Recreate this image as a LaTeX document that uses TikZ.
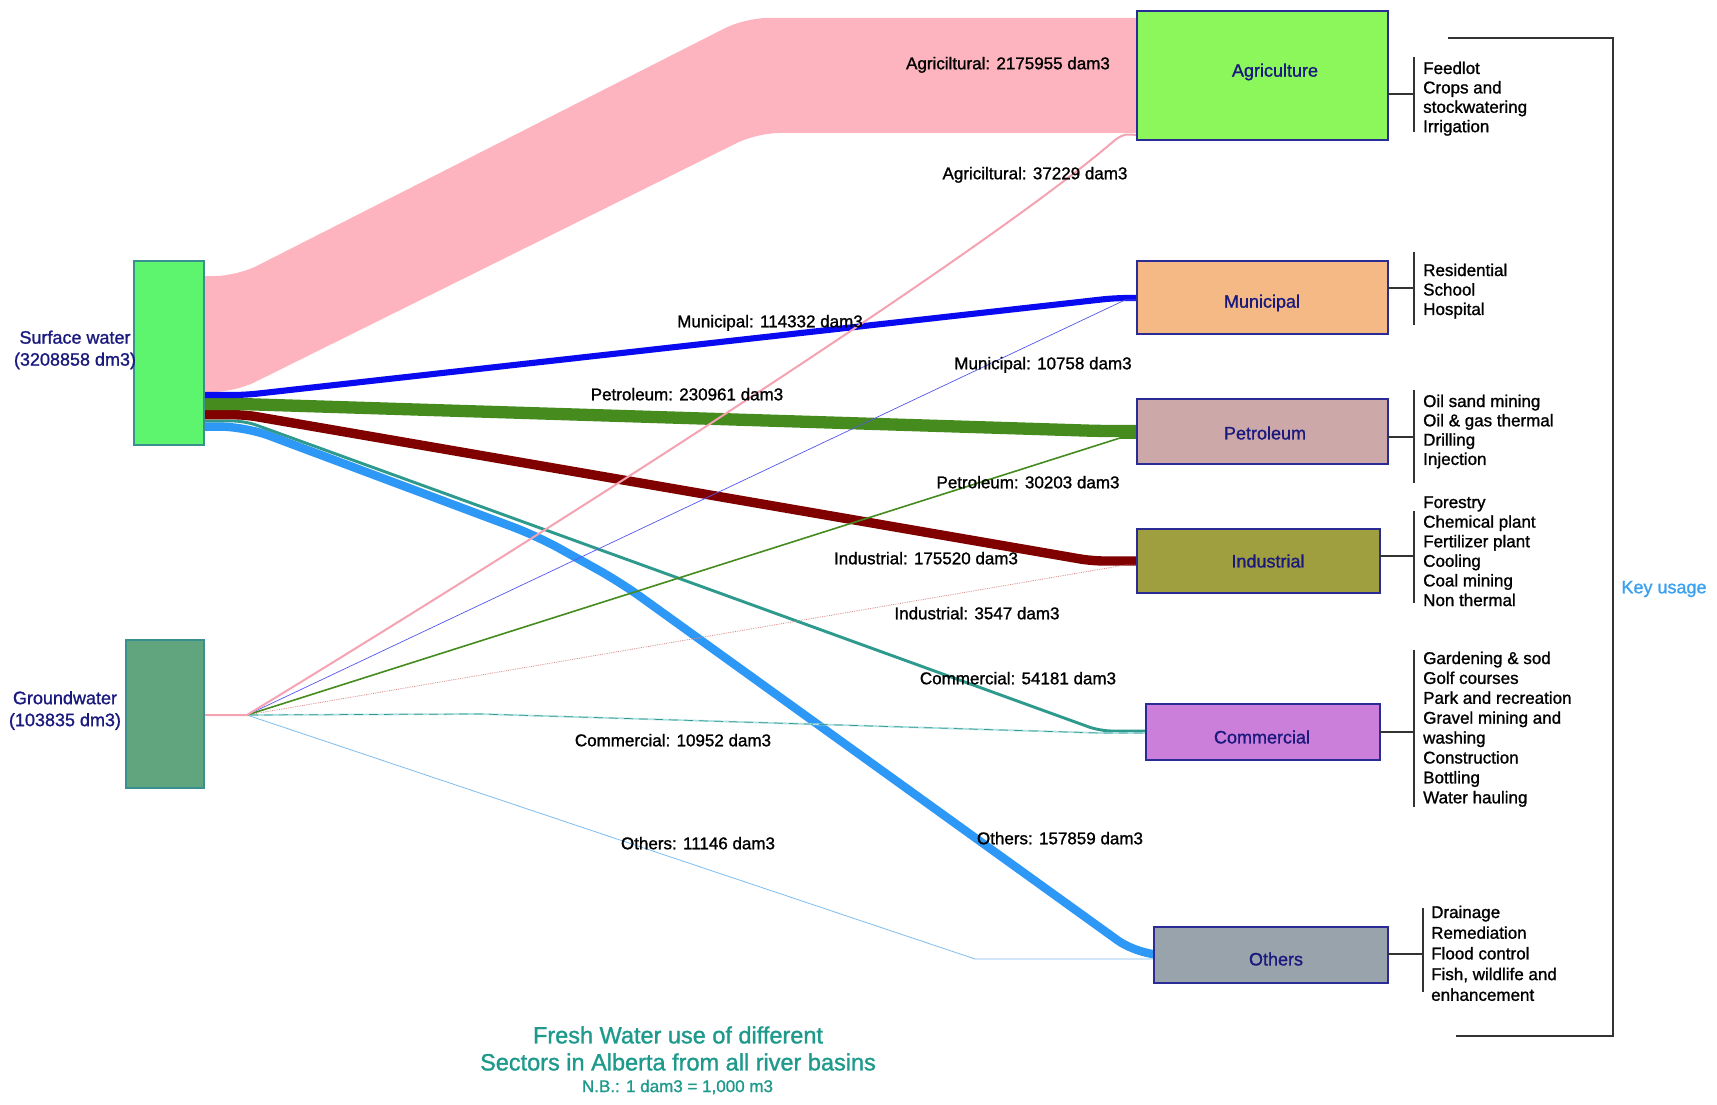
\documentclass[tikz,border=0pt]{standalone}
\usepackage{fontspec}
\setmainfont{Liberation Sans}[FakeBold=1.2]
\usetikzlibrary{calc}
\pgfdeclarelayer{background}
\pgfsetlayers{background,main}

% sources and sectors
\definecolor{swfill}{HTML}{5DF56E}
\definecolor{gwfill}{HTML}{60A57D}
\definecolor{srcedge}{HTML}{3A8F90}
\definecolor{tgtedge}{HTML}{2B2B95}
\definecolor{agrifill}{HTML}{8BF75A}
\definecolor{munifill}{HTML}{F5B985}
\definecolor{petrofill}{HTML}{CDA8A8}
\definecolor{indfill}{HTML}{9F9F40}
\definecolor{comfill}{HTML}{CC7FDA}
\definecolor{othfill}{HTML}{99A3AC}
% flows
\definecolor{flowpink}{HTML}{FDB4BF}
\definecolor{gwpink}{HTML}{F5A3B2}
\definecolor{flowblue}{HTML}{0A0AF0}
\definecolor{gwblue}{HTML}{5555F0}
\definecolor{flowgreen}{HTML}{458B1E}
\definecolor{flowred}{HTML}{800000}
\definecolor{flowsky}{HTML}{2D98F5}
\definecolor{gwsky}{HTML}{7DBDF0}
\definecolor{flowteal}{HTML}{2E9A8E}
\definecolor{paleteal}{HTML}{B0E0E0}
\definecolor{dotred}{HTML}{D88A8A}
% text
\definecolor{navy}{HTML}{1A1A7E}
\definecolor{titleteal}{HTML}{1E9A8C}
\definecolor{keyblue}{HTML}{3AA0F0}
\definecolor{bracegray}{HTML}{333333}

\newcommand{\usagelist}[1]{\begin{tabular}[t]{@{}l@{}}#1\end{tabular}}

\begin{document}
\begin{tikzpicture}[x=1pt, y=-1pt,
  src/.style={draw=srcedge, line width=1.2pt, anchor=north west, inner sep=0pt, outer sep=0pt},
  tgt/.style={draw=tgtedge, line width=1.6pt, anchor=north west, inner sep=0pt, outer sep=0pt},
  boxlabel/.style={text=navy, inner sep=0pt, font=\fontsize{18}{20}\selectfont},
  srclabel/.style={text=navy, inner sep=0pt, align=center, font=\fontsize{18}{22}\selectfont},
  flowlabel/.style={inner sep=0pt, text height=12pt, text depth=3.5pt, font=\fontsize{17}{19}\selectfont},
  usage/.style={anchor=base west, inner sep=0pt},
  brace/.style={draw=bracegray, line width=1.2pt},
  titletext/.style={text=titleteal, inner sep=0pt, align=center, font=\fontsize{23.5}{27}\selectfont},
]
\useasboundingbox (0,0) rectangle (1717,1105);

% ---------- water sources ----------
\node[src, fill=swfill, minimum width=70pt, minimum height=184pt] (sw) at (134,261) {};
\node[src, fill=gwfill, minimum width=78pt, minimum height=148pt] (gw) at (126,640) {};
\node[srclabel] (swlbl) at (75,350) {Surface water\\(3208858 dm3)};
\node[srclabel] (gwlbl) at (65,710.5) {Groundwater\\(103835 dm3)};

% ---------- sectors ----------
\node[tgt, fill=agrifill,  minimum width=251pt, minimum height=129pt] (agri)  at (1137,11) {};
\node[tgt, fill=munifill,  minimum width=251pt, minimum height=73pt]  (muni)  at (1137,261) {};
\node[tgt, fill=petrofill, minimum width=251pt, minimum height=65pt]  (petro) at (1137,399) {};
\node[tgt, fill=indfill,   minimum width=243pt, minimum height=64pt]  (ind)   at (1137,529) {};
\node[tgt, fill=comfill,   minimum width=234pt, minimum height=56pt]  (com)   at (1146,704) {};
\node[tgt, fill=othfill,   minimum width=234pt, minimum height=56pt]  (oth)   at (1154,927) {};

\node[boxlabel] (agrilbl)  at (1275,72)  {Agriculture};
\node[boxlabel] (munilbl)  at (1262,303) {Municipal};
\node[boxlabel] (petrolbl) at (1265,433) {Petroleum};
\node[boxlabel] (indlbl)   at (1268,561) {Industrial};
\node[boxlabel] (comlbl)   at (1262,737) {Commercial};
\node[boxlabel] (othlbl)   at (1276,959) {Others};

% ---------- flows ----------
\begin{pgfonlayer}{background}
\fill[white] (0,0) rectangle (1717,1105);

% surface water
\fill[flowpink, rounded corners=22pt]
  ($(sw.east |- 0,276)+(-40,0)$) -- (237,276) -- (745,18) -- ($(agri.west |- 0,18)+(40,0)$)
  -- ($(agri.west |- 0,133)+(40,0)$) -- (757,133) -- (235,392) -- ($(sw.east |- 0,392)+(-40,0)$) -- cycle;
\draw[flowsky, line width=8.4pt, rounded corners=25pt]
  (sw.east |- 0,426.6) -- (245,426.6) -- (537,536) -- (620,582) -- (1138,955) -- (oth.west |- 0,955);
\draw[flowteal, line width=2.9pt, rounded corners=12pt]
  (sw.east |- 0,421) -- (245,421) -- (1100,731) -- (com.west |- 0,731);
\draw[flowred, line width=9.4pt, rounded corners=12pt]
  (sw.east |- 0,414.7) -- (245,414.7) -- (1092,561) -- (ind.west |- 0,561);
\draw[flowgreen, line width=12.3pt, rounded corners=12pt]
  (sw.east |- 0,404) -- (240,404) -- (1100,431) -- (petro.west |- 0,431);
\draw[flowblue, line width=6.1pt, rounded corners=12pt]
  (sw.east |- 0,395) -- (245,395) -- (1115,298) -- (muni.west |- 0,298);

% groundwater
\draw[paleteal, line width=1.8pt]
  (gw.east |- 0,715) -- (247,715) -- (480,714) -- (1100,733) -- (com.west |- 0,733);
\draw[flowteal, line width=0.7pt, dash pattern=on 9pt off 6pt]
  (gw.east |- 0,715) -- (247,715) -- (480,714) -- (1100,733) -- (com.west |- 0,733);
\draw[gwsky, line width=0.8pt]
  (gw.east |- 0,715) -- (247,715) -- (975,959) -- (oth.west |- 0,959);
\draw[dotred, line width=0.8pt, densely dotted]
  (gw.east |- 0,715) -- (247,715) -- (1125,565) -- (ind.west |- 0,565);
\draw[flowgreen, line width=1.6pt]
  (gw.east |- 0,715) -- (247,715) -- (1120,438) -- (petro.west |- 0,438);
\draw[gwblue, line width=0.7pt]
  (gw.east |- 0,715) -- (247,715) -- (1125,300) -- (muni.west |- 0,300);
\draw[gwpink, line width=2pt]
  (gw.east |- 0,715) -- (247,715) .. controls (600,500) and (1000,240) .. (1115,140)
  .. controls (1124,134) .. (agri.west |- 0,135);
\end{pgfonlayer}

% ---------- flow labels ----------
\node[flowlabel] (l1)  at (1008,65)  {Agriciltural: 2175955 dam3};
\node[flowlabel] (l2)  at (1035,175) {Agriciltural: 37229 dam3};
\node[flowlabel] (l3)  at (770,323)  {Municipal: 114332 dam3};
\node[flowlabel] (l4)  at (1043,365) {Municipal: 10758 dam3};
\node[flowlabel] (l5)  at (687,396)  {Petroleum: 230961 dam3};
\node[flowlabel] (l6)  at (1028,484) {Petroleum: 30203 dam3};
\node[flowlabel] (l7)  at (926,560)  {Industrial: 175520 dam3};
\node[flowlabel] (l8)  at (977,615)  {Industrial: 3547 dam3};
\node[flowlabel] (l9)  at (1018,680) {Commercial: 54181 dam3};
\node[flowlabel] (l10) at (673,742)  {Commercial: 10952 dam3};
\node[flowlabel] (l11) at (698,845)  {Others: 11146 dam3};
\node[flowlabel] (l12) at (1060,840) {Others: 157859 dam3};

% ---------- key usage lists ----------
\node[usage, font=\fontsize{17}{19.4}\selectfont] (agriuse) at (1423,74)
  {\usagelist{Feedlot\\Crops and\\stockwatering\\Irrigation}};
\node[usage, font=\fontsize{17}{19.5}\selectfont] (muniuse) at (1423,276)
  {\usagelist{Residential\\School\\Hospital}};
\node[usage, font=\fontsize{17}{19.3}\selectfont] (petrouse) at (1423,407)
  {\usagelist{Oil sand mining\\Oil \& gas thermal\\Drilling\\Injection}};
\node[usage, font=\fontsize{17}{19.6}\selectfont] (induse) at (1423,508)
  {\usagelist{Forestry\\Chemical plant\\Fertilizer plant\\Cooling\\Coal mining\\Non thermal}};
\node[usage, font=\fontsize{17}{19.9}\selectfont] (comuse) at (1423,664)
  {\usagelist{Gardening \& sod\\Golf courses\\Park and recreation\\Gravel mining and\\washing\\Construction\\Bottling\\Water hauling}};
\node[usage, font=\fontsize{17}{20.7}\selectfont] (othuse) at (1431,918)
  {\usagelist{Drainage\\Remediation\\Flood control\\Fish, wildlife and\\enhancement}};

% brackets joining each sector to its list
\draw[brace] (agri.east |- 0,94)   -- (1414,94);  \draw[brace] (1414,57)  -- (1414,132);
\draw[brace] (muni.east |- 0,288)  -- (1414,288); \draw[brace] (1414,252) -- (1414,325);
\draw[brace] (petro.east |- 0,437) -- (1414,437); \draw[brace] (1414,390) -- (1414,483);
\draw[brace] (ind.east |- 0,556)   -- (1414,556); \draw[brace] (1414,511) -- (1414,603);
\draw[brace] (com.east |- 0,732)   -- (1414,732); \draw[brace] (1414,650) -- (1414,807);
\draw[brace] (oth.east |- 0,954)   -- (1423,954); \draw[brace] (1423,908) -- (1423,992);

% overall key bracket
\draw[brace] (1448,38) -- (1613,38) -- (1613,1036) -- (1456,1036);
\node[text=keyblue, inner sep=0pt, font=\fontsize{18}{20}\selectfont] (key) at (1664,589) {Key usage};

% ---------- title ----------
\node[titletext] (title) at (678,1048.5) {Fresh Water use of different\\Sectors in Alberta from all river basins};
\node[text=titleteal, inner sep=0pt, font=\fontsize{17}{19}\selectfont] (nb) at (677.5,1087) {N.B.: 1 dam3 = 1,000 m3};
\end{tikzpicture}
\end{document}
